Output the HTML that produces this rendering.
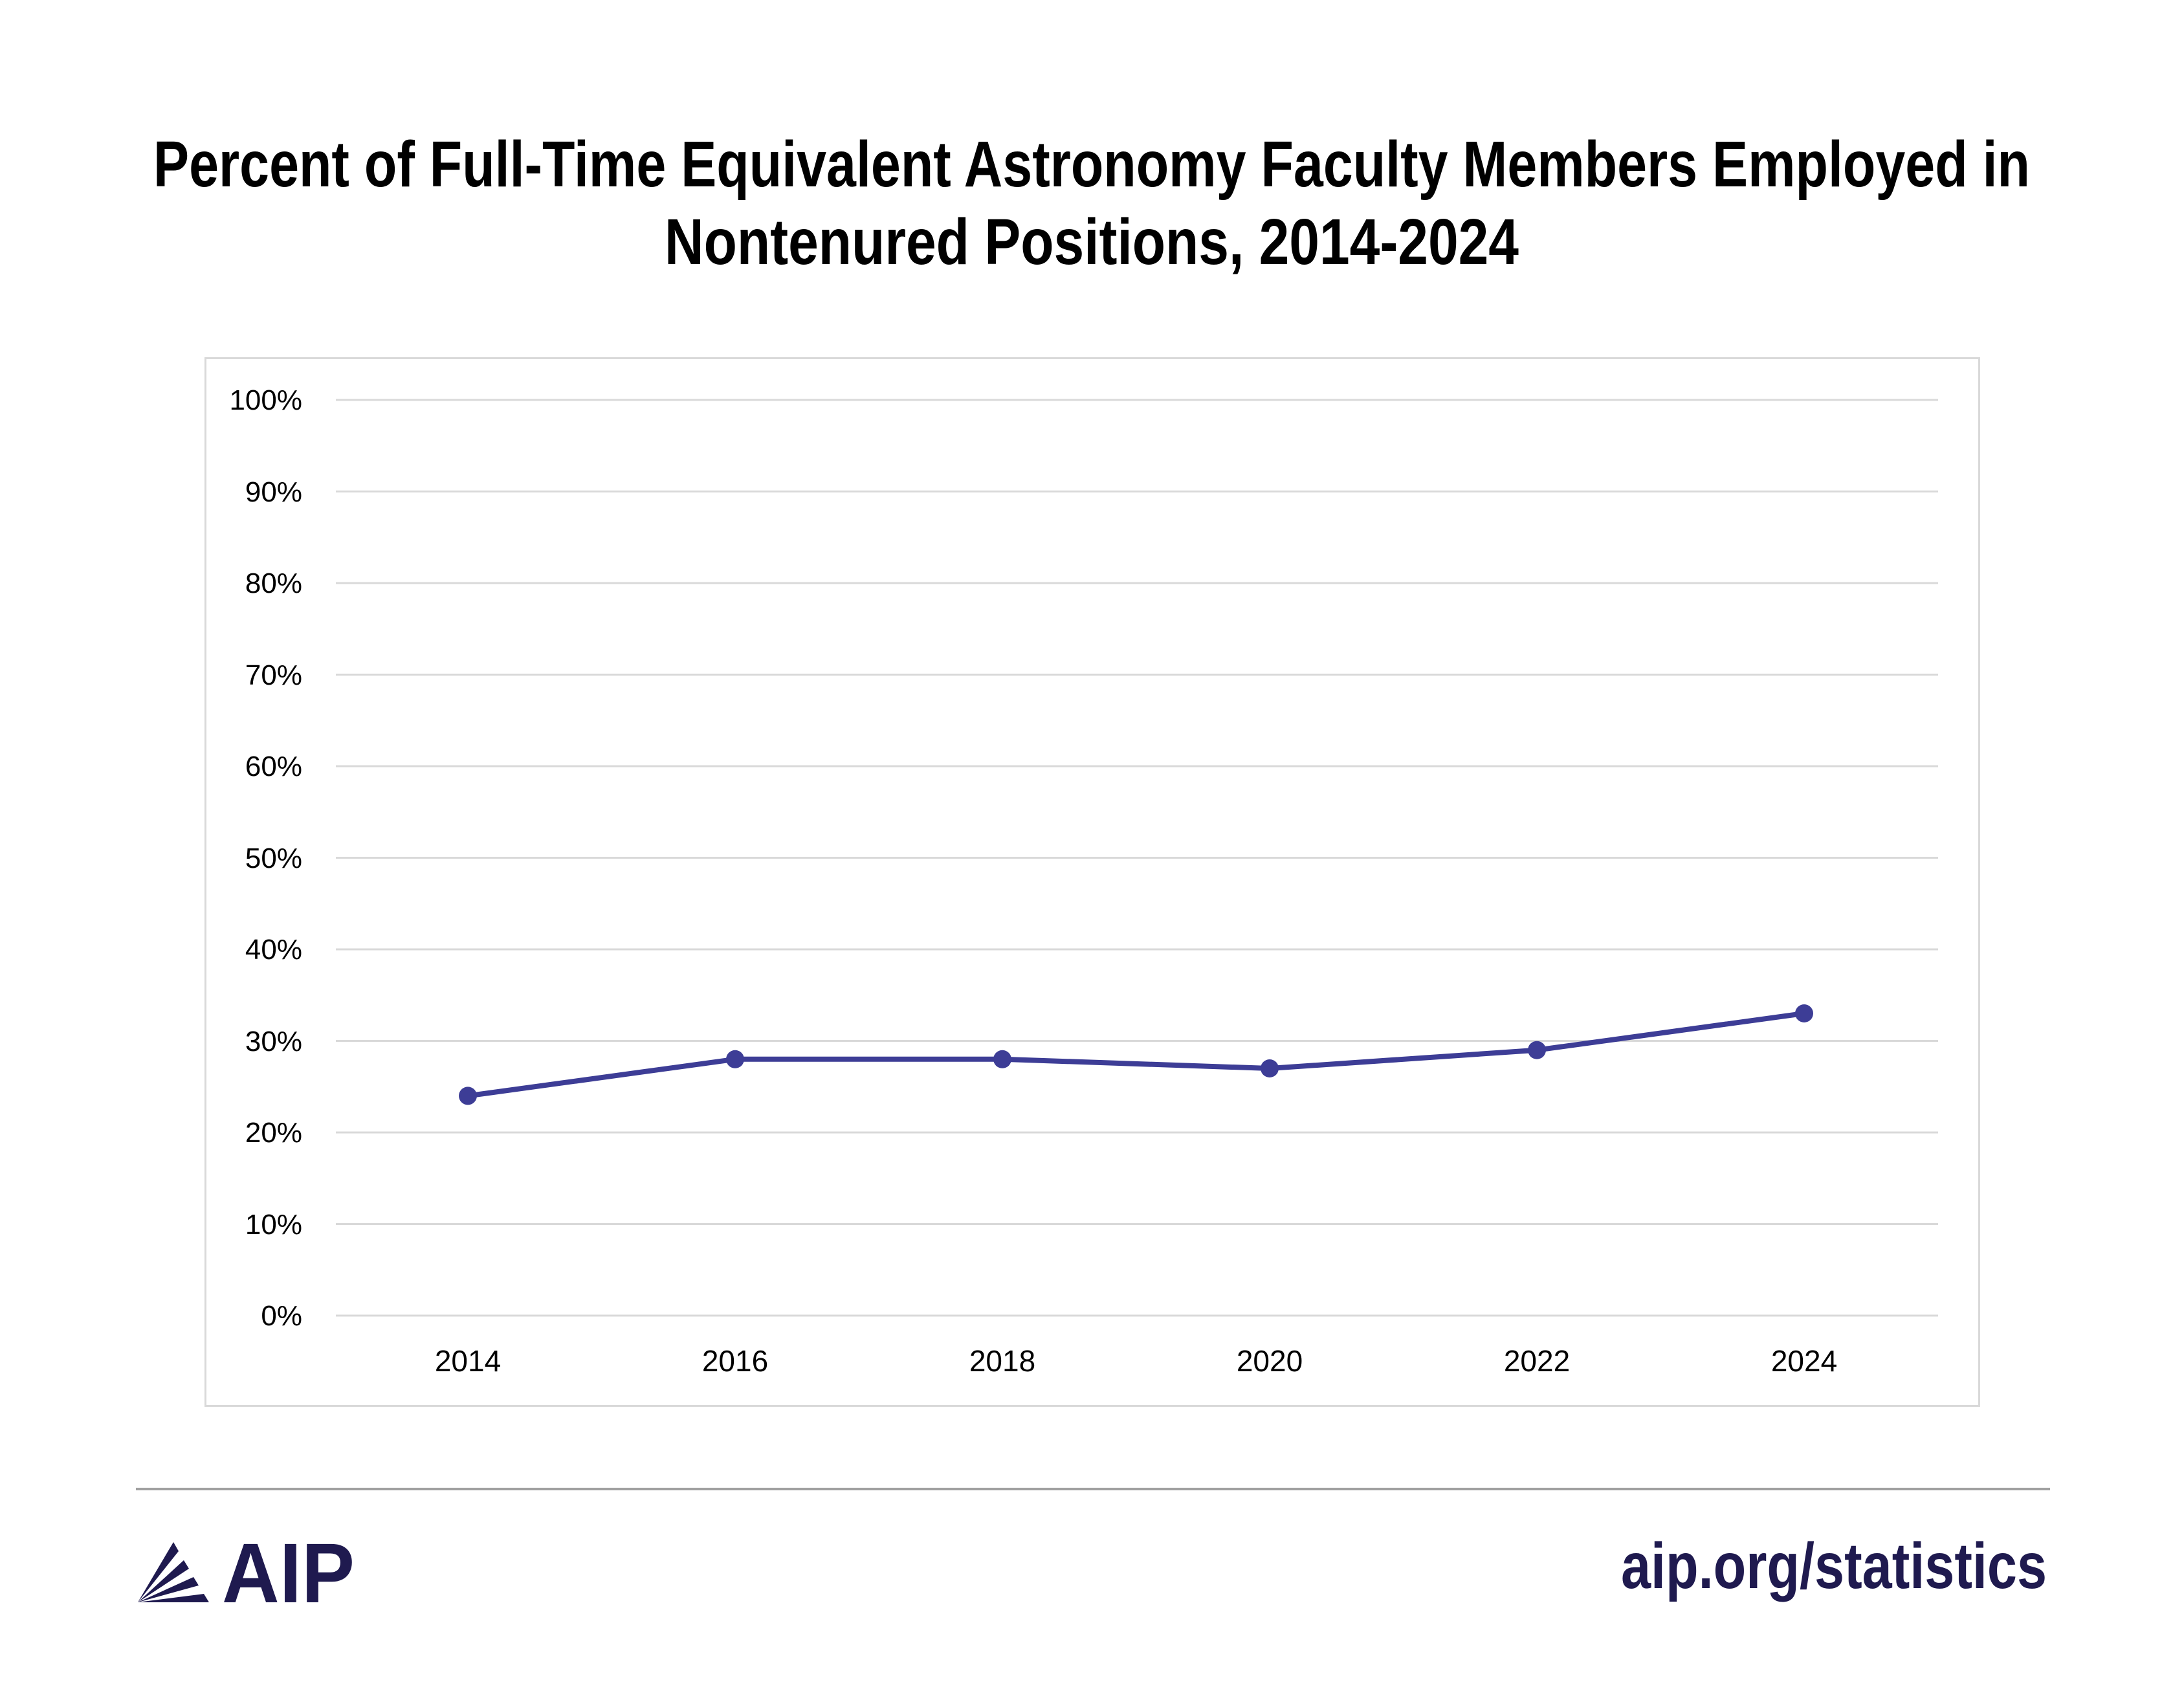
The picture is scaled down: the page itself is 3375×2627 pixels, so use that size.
<!DOCTYPE html>
<html><head><meta charset="utf-8"><style>
html,body{margin:0;padding:0;background:#fff;}
svg{display:block;}
</style></head><body>
<svg width="3375" height="2627" viewBox="0 0 3375 2627" xmlns="http://www.w3.org/2000/svg">
<rect width="3375" height="2627" fill="#fff"/>
<g font-family="Liberation Sans, sans-serif" font-weight="bold" fill="#000" font-size="100">
<text x="1687" y="288" text-anchor="middle" textLength="2900" lengthAdjust="spacingAndGlyphs">Percent of Full-Time Equivalent Astronomy Faculty Members Employed in</text>
<text x="1687" y="408" text-anchor="middle" textLength="1320" lengthAdjust="spacingAndGlyphs">Nontenured Positions, 2014-2024</text>
</g>
<rect x="317.5" y="553.5" width="2741" height="1619" fill="#fff" stroke="#d9d9d9" stroke-width="3"/>
<g stroke="#d9d9d9" stroke-width="3">
<line x1="519" x2="2995" y1="618" y2="618"/>
<line x1="519" x2="2995" y1="759.5" y2="759.5"/>
<line x1="519" x2="2995" y1="901" y2="901"/>
<line x1="519" x2="2995" y1="1042.5" y2="1042.5"/>
<line x1="519" x2="2995" y1="1184" y2="1184"/>
<line x1="519" x2="2995" y1="1325.5" y2="1325.5"/>
<line x1="519" x2="2995" y1="1467" y2="1467"/>
<line x1="519" x2="2995" y1="1608.5" y2="1608.5"/>
<line x1="519" x2="2995" y1="1750" y2="1750"/>
<line x1="519" x2="2995" y1="1891.5" y2="1891.5"/>
<line x1="519" x2="2995" y1="2033" y2="2033"/>
</g>
<g font-family="Liberation Sans, sans-serif" font-size="44" fill="#000" text-anchor="end">
<text x="467" y="633">100%</text>
<text x="467" y="775">90%</text>
<text x="467" y="916">80%</text>
<text x="467" y="1058">70%</text>
<text x="467" y="1199">60%</text>
<text x="467" y="1341">50%</text>
<text x="467" y="1482">40%</text>
<text x="467" y="1624">30%</text>
<text x="467" y="1765">20%</text>
<text x="467" y="1907">10%</text>
<text x="467" y="2048">0%</text>
</g>
<g font-family="Liberation Sans, sans-serif" font-size="46" fill="#000" text-anchor="middle">
<text x="723" y="2119">2014</text>
<text x="1136" y="2119">2016</text>
<text x="1549" y="2119">2018</text>
<text x="1962" y="2119">2020</text>
<text x="2375" y="2119">2022</text>
<text x="2788" y="2119">2024</text>
</g>
<polyline fill="none" stroke="#3d3d96" stroke-width="8" stroke-linejoin="round" points="723,1693.4 1136,1636.8 1549,1636.8 1962,1651 2375,1622.7 2788,1566"/>
<g fill="#3d3d96">
<circle cx="723" cy="1693.4" r="14"/>
<circle cx="1136" cy="1636.8" r="14"/>
<circle cx="1549" cy="1636.8" r="14"/>
<circle cx="1962" cy="1651" r="14"/>
<circle cx="2375" cy="1622.7" r="14"/>
<circle cx="2788" cy="1566" r="14"/>
</g>
<line x1="210" x2="3168" y1="2301" y2="2301" stroke="#a0a0a0" stroke-width="4"/>
<g fill="#1f1a4f">
<polygon points="213,2476 268,2383 276,2397"/>
<polygon points="213,2476 284,2411 292,2424"/>
<polygon points="213,2476 299,2437 307,2450"/>
<polygon points="213,2476 315,2463 323,2476"/>
<text x="343" y="2476" font-family="Liberation Sans, sans-serif" font-weight="bold" font-size="131" textLength="205" lengthAdjust="spacingAndGlyphs">AIP</text>
<text x="2505" y="2454" font-family="Liberation Sans, sans-serif" font-weight="bold" font-size="100" textLength="658" lengthAdjust="spacingAndGlyphs">aip.org/statistics</text>
</g>
</svg>
</body></html>
